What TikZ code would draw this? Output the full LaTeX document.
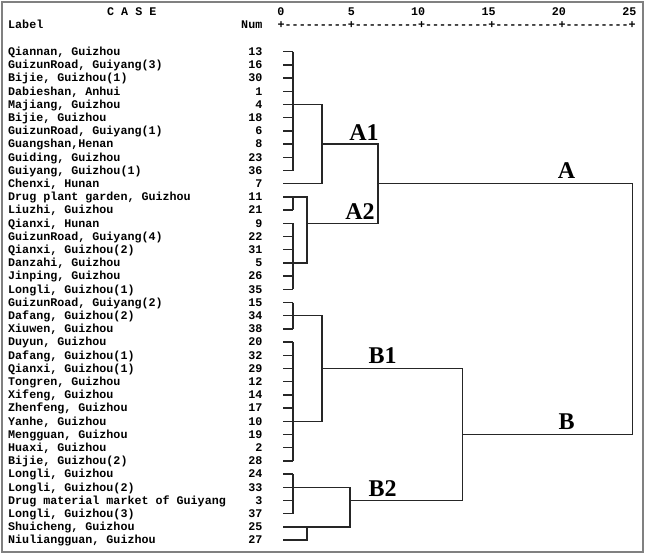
\documentclass[tikz,border=0pt]{standalone}
\usepackage{fontspec}
\setmonofont{Liberation Mono}
\newfontfamily\clfont{Liberation Serif}
\tikzset{
  lab/.style={font=\ttfamily\bfseries\fontsize{11.7}{12}\selectfont, inner sep=0pt, text=black},
  clab/.style={font=\clfont\bfseries\fontsize{24}{26}\selectfont, inner sep=0pt, anchor=base, text=black},
  tree/.style={line width=1.5pt, draw=black!85},
  frame/.style={line width=1.4pt, draw=black!50},
}
\newcommand\RY[1]{51.7+13.2*#1}
\newcommand\leaf[3]{%
  \node[lab, anchor=base west] (t#1) at (8,{\RY{#1}+3.7}) {#2};
  \node[lab, anchor=base east] (n#1) at (262.5,{\RY{#1}+3.7}) {#3};
  \coordinate (c#1) at (283,{\RY{#1}});
}
\begin{document}
\begin{tikzpicture}[x=1pt,y=-1pt]
\useasboundingbox (0,0) rectangle (645,554);
\draw[frame] (2,2) rectangle (643,552);
% header
\node[lab, anchor=base west] (case) at (107,15.5) {C A S E};
\node[lab, anchor=base west] (label) at (8,28.5) {Label};
\node[lab, anchor=base east] (num) at (262.5,28.5) {Num};
\node[lab, anchor=base west] (axis) at (277.5,28.5) {+---------+---------+---------+---------+---------+};
\foreach \v/\xx in {0/281,5/351.4,10/421.8,15/492.2,20/562.6,25/633}
  \node[lab, anchor=base east] (ax\v) at (\xx+3.6,15.5) {\v};
% leaves
\leaf{0}{Qiannan, Guizhou}{13}
\leaf{1}{GuizunRoad, Guiyang(3)}{16}
\leaf{2}{Bijie, Guizhou(1)}{30}
\leaf{3}{Dabieshan, Anhui}{1}
\leaf{4}{Majiang, Guizhou}{4}
\leaf{5}{Bijie, Guizhou}{18}
\leaf{6}{GuizunRoad, Guiyang(1)}{6}
\leaf{7}{Guangshan,Henan}{8}
\leaf{8}{Guiding, Guizhou}{23}
\leaf{9}{Guiyang, Guizhou(1)}{36}
\leaf{10}{Chenxi, Hunan}{7}
\leaf{11}{Drug plant garden, Guizhou}{11}
\leaf{12}{Liuzhi, Guizhou}{21}
\leaf{13}{Qianxi, Hunan}{9}
\leaf{14}{GuizunRoad, Guiyang(4)}{22}
\leaf{15}{Qianxi, Guizhou(2)}{31}
\leaf{16}{Danzahi, Guizhou}{5}
\leaf{17}{Jinping, Guizhou}{26}
\leaf{18}{Longli, Guizhou(1)}{35}
\leaf{19}{GuizunRoad, Guiyang(2)}{15}
\leaf{20}{Dafang, Guizhou(2)}{34}
\leaf{21}{Xiuwen, Guizhou}{38}
\leaf{22}{Duyun, Guizhou}{20}
\leaf{23}{Dafang, Guizhou(1)}{32}
\leaf{24}{Qianxi, Guizhou(1)}{29}
\leaf{25}{Tongren, Guizhou}{12}
\leaf{26}{Xifeng, Guizhou}{14}
\leaf{27}{Zhenfeng, Guizhou}{17}
\leaf{28}{Yanhe, Guizhou}{10}
\leaf{29}{Mengguan, Guizhou}{19}
\leaf{30}{Huaxi, Guizhou}{2}
\leaf{31}{Bijie, Guizhou(2)}{28}
\leaf{32}{Longli, Guizhou}{24}
\leaf{33}{Longli, Guizhou(2)}{33}
\leaf{34}{Drug material market of Guiyang}{3}
\leaf{35}{Longli, Guizhou(3)}{37}
\leaf{36}{Shuicheng, Guizhou}{25}
\leaf{37}{Niuliangguan, Guizhou}{27}
% leaf stubs to first merge level
\foreach \i in {0,...,9,11,12,...,35}
  \draw[tree] (c\i) -- ++(10,0);
% first-level verticals
\draw[tree] (293,{\RY{0}}) -- (293,{\RY{9}});
\draw[tree] (293,{\RY{11}}) -- (293,{\RY{12}});
\draw[tree] (293,{\RY{13}}) -- (293,{\RY{18}});
\draw[tree] (293,{\RY{19}}) -- (293,{\RY{21}});
\draw[tree] (293,{\RY{22}}) -- (293,{\RY{31}});
\draw[tree] (293,{\RY{32}}) -- (293,{\RY{35}});
% A1
\draw[tree] (c4) -- (322,{\RY{4}}) -- (322,{\RY{10}}) -- (c10);
\coordinate (jA1) at (322,{\RY{7}});
% A2
\draw[tree] (c11) -- (307,{\RY{11}}) -- (307,{\RY{16}}) -- (c16);
\coordinate (jA2) at (307,{\RY{13}});
% A
\coordinate (jA) at (378,{\RY{10}});
\draw[tree] (jA1) -- (378,{\RY{7}}) -- (378,{\RY{13}}) -- (jA2);
% B1
\draw[tree] (c20) -- (322,{\RY{20}}) -- (322,{\RY{28}}) -- (c28);
\coordinate (jB1) at (322,{\RY{24}});
% B2
\draw[tree] (c36) -- (350,{\RY{36}}) -- (350,{\RY{33}}) -- (c33);
\draw[tree] (c37) -- (307,{\RY{37}}) -- (307,{\RY{36}});
\coordinate (jB2) at (350,{\RY{34}});
% B
\coordinate (jB) at (462.7,{\RY{29}});
\draw[tree] (jB1) -- (462.7,{\RY{24}}) -- (462.7,{\RY{34}}) -- (jB2);
% root
\draw[tree] (jA) -- (632.3,{\RY{10}}) -- (632.3,{\RY{29}}) -- (jB);
% cluster labels
\node[clab] (lA1) at (364,140) {A1};
\node[clab] (lA2) at (360,219) {A2};
\node[clab] (lA) at (566.5,178) {A};
\node[clab] (lB1) at (382.5,363) {B1};
\node[clab] (lB) at (566.5,429) {B};
\node[clab] (lB2) at (382.5,496) {B2};
\end{tikzpicture}
\end{document}
